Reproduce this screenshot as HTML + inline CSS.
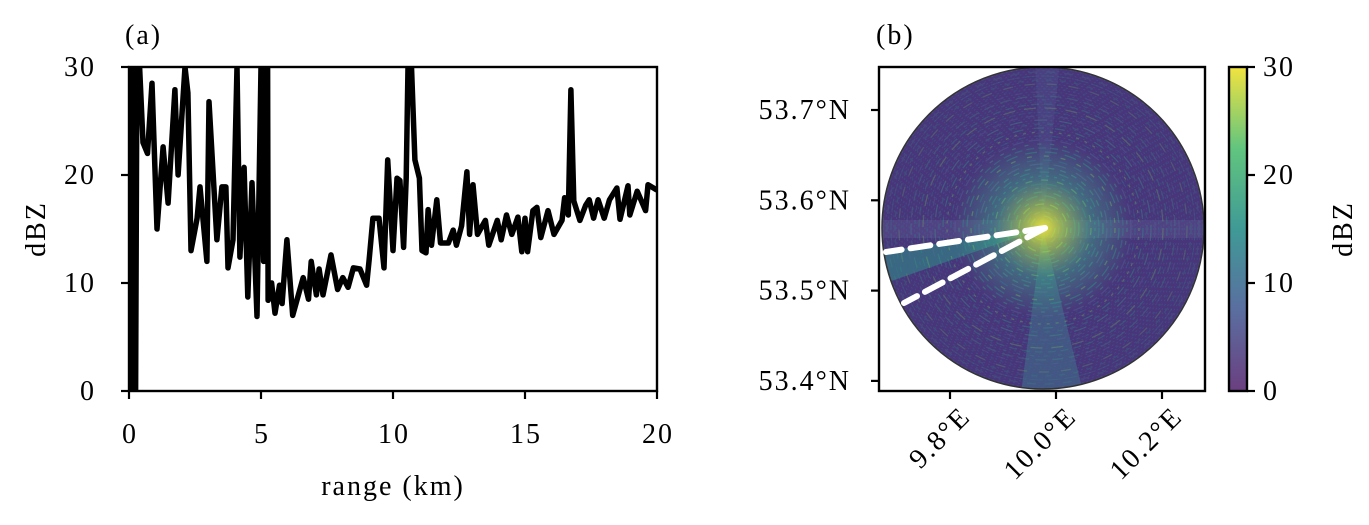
<!DOCTYPE html>
<html><head><meta charset="utf-8">
<style>
html,body{margin:0;padding:0;background:#fff;}
svg{display:block;font-family:"Liberation Serif","DejaVu Serif",serif;}
text{letter-spacing:2px;}
</style></head>
<body>
<svg id="fig" width="1369" height="525" viewBox="0 0 1369 525" xmlns="http://www.w3.org/2000/svg">
<defs>
  <radialGradient id="core" cx="0.5" cy="0.5" r="0.5">
    <stop offset="0" stop-color="#f2e73a" stop-opacity="0.95"/>
    <stop offset="0.2" stop-color="#b5dc4a" stop-opacity="0.7"/>
    <stop offset="0.55" stop-color="#3fa98a" stop-opacity="0.45"/>
    <stop offset="1" stop-color="#3fa98a" stop-opacity="0"/>
  </radialGradient>
  <linearGradient id="cbar" x1="0" y1="1" x2="0" y2="0">
    <stop offset="0" stop-color="#6b3f80"/>
    <stop offset="0.25" stop-color="#5a6ea0"/>
    <stop offset="0.5" stop-color="#3f9a96"/>
    <stop offset="0.75" stop-color="#62c57e"/>
    <stop offset="1" stop-color="#f2e33f"/>
  </linearGradient>
  <clipPath id="disk"><circle cx="1043" cy="228" r="161"/></clipPath>
  <clipPath id="plotclip"><rect x="129" y="67" width="528" height="324"/></clipPath>
</defs>

<g id="panelA">
  <text x="125" y="44" font-size="28">(a)</text>
  <g id="lineLayer" clip-path="url(#plotclip)"></g>
  <rect x="129" y="67" width="528" height="324" fill="none" stroke="#000" stroke-width="2.4"/>
  <g id="axesA"></g>
  <text x="393" y="495" font-size="28" text-anchor="middle">range (km)</text>
  <text transform="translate(45,229) rotate(-90)" font-size="28" text-anchor="middle">dBZ</text>
</g>

<g id="panelB">
  <text x="876" y="44" font-size="28">(b)</text>
  <g clip-path="url(#disk)">
    <circle cx="1043" cy="228" r="161" fill="#48357a"/>
    <rect x="880" y="220" width="330" height="18" fill="#6d6ea0" opacity="0.25"/>
    <polygon points="1043,228 1020,400 1085,400" fill="#3f8a92" opacity="0.4"/>
    <polygon points="1043,228 1035,60 1060,60" fill="#5b6fa0" opacity="0.2"/>
    <polygon points="1043,228 880,252 880,285" fill="#2f8f88" opacity="0.55"/>
    <g id="rings"></g>
    <circle cx="1043" cy="228" r="90" fill="url(#core)"/>
  </g>
  <circle cx="1043" cy="228" r="161" fill="none" stroke="#333" stroke-width="1.5"/>
  <line x1="1045" y1="228" x2="886" y2="252" stroke="#fff" stroke-width="6" stroke-dasharray="20,9" stroke-linecap="round"/>
  <line x1="1045" y1="228" x2="904" y2="303" stroke="#fff" stroke-width="6" stroke-dasharray="20,9" stroke-linecap="round"/>
  <rect x="879" y="67" width="326" height="324" fill="none" stroke="#000" stroke-width="2.4"/>
  <g id="axesB"></g>
  <rect x="1229" y="67" width="18" height="324" fill="url(#cbar)" stroke="#000" stroke-width="2.4"/>
  <g id="axesC"></g>
  <text transform="translate(1352,229) rotate(-90)" font-size="28" text-anchor="middle">dBZ</text>
</g>

<script>
const rangeKm = [0,0.05,0.1,0.15,0.2,0.25,0.3,0.4,0.53,0.7,0.87,1.06,1.29,1.48,1.74,1.86,2.12,2.23,2.35,2.58,2.69,2.95,3.03,3.33,3.52,3.67,3.75,3.94,4.09,4.2,4.36,4.5,4.66,4.85,5.0,5.1,5.15,5.25,5.27,5.4,5.53,5.7,5.8,5.98,6.2,6.6,6.8,6.9,7.1,7.2,7.35,7.65,7.9,8.1,8.3,8.5,8.75,9.0,9.1,9.24,9.47,9.66,9.8,10.0,10.15,10.26,10.4,10.5,10.57,10.7,10.83,11.0,11.1,11.25,11.33,11.46,11.66,11.8,12.1,12.28,12.4,12.6,12.8,12.9,13.03,13.2,13.5,13.63,13.95,14.1,14.3,14.5,14.73,14.88,15.0,15.1,15.3,15.45,15.6,15.87,16.1,16.4,16.5,16.64,16.74,16.85,17.08,17.3,17.43,17.6,17.77,18.0,18.2,18.48,18.6,18.9,18.97,19.25,19.57,19.66,20];
const dbzValues = [30,0,30,0,30,0,30,30,23,22,28.5,15,22.6,17.4,27.9,20,30,27.6,13,16,18.9,12,26.8,14,18.9,18.9,11.4,14,30,12.4,20.7,8.7,19.3,6.9,30,12,30,30,8.4,10,7.2,9.8,8.1,14,7,10.5,8.5,12,8.9,11.3,8.9,12.6,9.4,10.5,9.6,11.4,11.3,9.8,12.2,16,16,11.4,21.4,13,19.7,19.5,13.3,19.7,30,30,21.4,19.7,13,12.8,16.8,13.5,17.7,13.7,13.7,14.9,13.5,15.3,20.3,14.5,19.1,14.5,15.8,13.5,15.8,14,16.3,14.5,16.1,12.9,16,12.9,16.7,17,14.2,16.7,14.5,15.8,17.9,16.3,27.9,17.6,15.8,17.2,17.7,16,17.7,16,17.7,18.8,15.9,19,16.3,18.5,16.7,19.1,18.6];
const xTicks = [0,5,10,15,20];
const yTicks = [0,10,20,30];
const latTicks = [53.7,53.6,53.5,53.4];
const lonTicks = [9.8,10.0,10.2];
const cbarTicks = [0,10,20,30];

const NS = "http://www.w3.org/2000/svg";
function mk(tag, attrs, parent){const e=document.createElementNS(NS,tag);for(const k in attrs)e.setAttribute(k,attrs[k]);parent.appendChild(e);return e;}
const xA = v => 129 + (v-0)/(20-0)*528;
const yA = v => 391 - (v-0)/(30-0)*324;
const yLat = v => 110 + (53.7 - v)/0.1*90.3;
const xLon = v => 950 + (v-9.8)/0.2*106;
const yCb = v => 391 - v/30*324;

const lineLayer = document.getElementById('lineLayer');
let d = rangeKm.map((r,i)=>(i?'L':'M')+xA(r).toFixed(1)+','+yA(dbzValues[i]).toFixed(1)).join(' ');
const path = mk('path',{d:d,fill:'none',stroke:'#000','stroke-width':5.5,'stroke-linejoin':'round'},lineLayer);



const axesA = document.getElementById('axesA');
xTicks.forEach(t=>{
  const l = mk('line',{x1:xA(t),x2:xA(t),y1:391,y2:399,stroke:'#000','stroke-width':2.2},axesA);
  
  
  const tx = mk('text',{x:xA(t)+1,y:443,'font-size':28,'text-anchor':'middle'},axesA);
  tx.textContent = t;
  
  
});
yTicks.forEach(t=>{
  const l = mk('line',{x1:121,x2:129,y1:yA(t),y2:yA(t),stroke:'#000','stroke-width':2.2},axesA);
  
  
  const tx = mk('text',{x:96,y:yA(t)+9,'font-size':28,'text-anchor':'end'},axesA);
  tx.textContent = t;
  
  
});

const rings = document.getElementById('rings');
const cols = ['#2f8f8c','#3fa889','#5a6fa0','#2a788e','#7ad151','#22a884'];
for(let i=0;i<40;i++){
  const r = 8 + i*4;
  mk('circle',{cx:1043,cy:228,r:r,fill:'none',stroke:cols[i%cols.length],'stroke-width':1.3,
    opacity:(0.55 - i*0.01).toFixed(2),'stroke-dasharray':((i*7)%11+3)+','+((i*5)%9+4)},rings);
}
for(let i=0;i<30;i++){
  const r = 165 - i*2.6;
  mk('circle',{cx:1043,cy:228,r:r,fill:'none',stroke:'#3b6a8e','stroke-width':1,opacity:0.4,'stroke-dasharray':'2,3'},rings);
}

const axesB = document.getElementById('axesB');
latTicks.forEach(t=>{
  const y = yLat(t);
  const l = mk('line',{x1:871,x2:879,y1:y,y2:y,stroke:'#000','stroke-width':2.2},axesB);
  
  
  const tx = mk('text',{x:851,y:y+9,'font-size':28,'text-anchor':'end'},axesB);
  tx.textContent = t.toFixed(1)+'°N';
  
  
});
lonTicks.forEach(t=>{
  const x = xLon(t);
  const l = mk('line',{x1:x,x2:x,y1:391,y2:399,stroke:'#000','stroke-width':2.2},axesB);
  
  
  const tx = mk('text',{x:0,y:0,'font-size':28,'text-anchor':'end',transform:'translate('+(x+22)+',418) rotate(-45)'},axesB);
  tx.textContent = t.toFixed(1)+'°E';
  
  
});

const axesC = document.getElementById('axesC');
cbarTicks.forEach(t=>{
  const y = yCb(t);
  const l = mk('line',{x1:1247,x2:1255,y1:y,y2:y,stroke:'#000','stroke-width':2.2},axesC);
  
  
  const tx = mk('text',{x:1263,y:y+9,'font-size':28},axesC);
  tx.textContent = t;
  
  
});
</script>
</svg>
</body></html>
